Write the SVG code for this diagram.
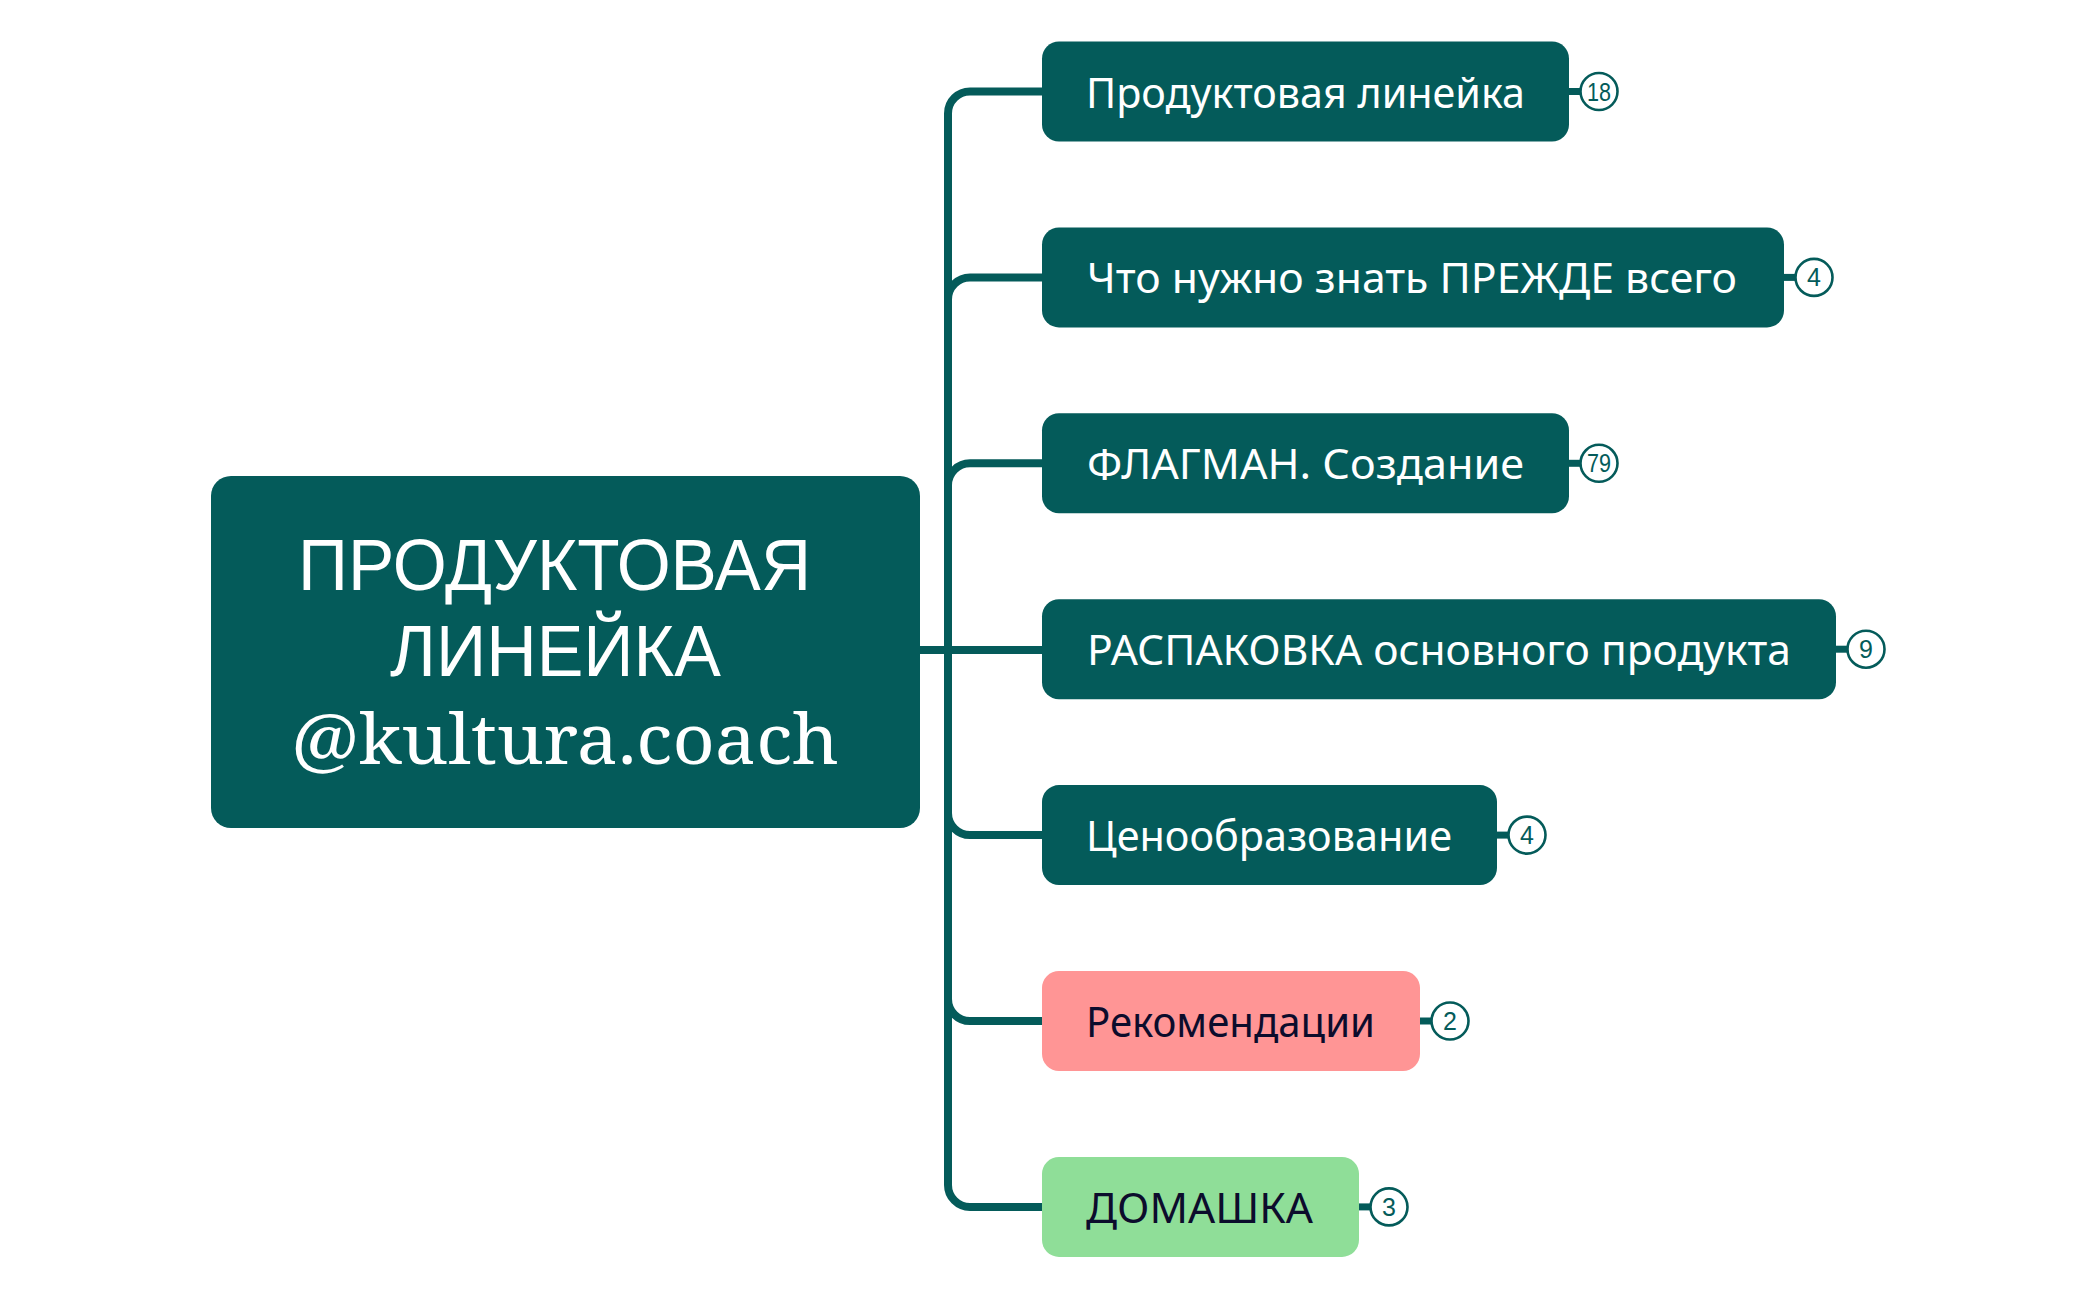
<svg xmlns="http://www.w3.org/2000/svg" width="2097" height="1300" viewBox="0 0 2097 1300">
<style>
.bg{fill:#ffffff}
.box{fill:#045b5a}
.pink{fill:#ff9595}
.green{fill:#8fde98}
.lbl{font-family:"Noto Sans","Liberation Sans",sans-serif;font-size:42px;fill:#ffffff}
.dark{fill:#0c0c2c}
.main{font-family:"Liberation Sans","Noto Sans",sans-serif;font-size:72px;fill:#ffffff}
.serif{font-family:"Noto Serif","DejaVu Serif","Liberation Serif",serif;font-size:69px;fill:#ffffff}
.conn{fill:none;stroke:#045b5a;stroke-width:8}
.tie{stroke:#045b5a;stroke-width:7}
.badge{fill:#ffffff;stroke:#045b5a;stroke-width:2.6}
.num{font-family:"Liberation Sans","Noto Sans",sans-serif;font-size:25px;fill:#045b5a;text-anchor:middle}
</style>
<rect class="bg" x="0" y="0" width="2097" height="1300"/>
<g id="connectors">
<path class="conn" d="M920 650 H1042"/>
<path class="conn" d="M948 650 V113.5 A22 22 0 0 1 970 91.5 H1042"/>
<path class="conn" d="M948 650 V299.4 A22 22 0 0 1 970 277.4 H1042"/>
<path class="conn" d="M948 650 V485.3 A22 22 0 0 1 970 463.3 H1042"/>
<path class="conn" d="M948 650 V813.1 A22 22 0 0 0 970 835.1 H1042"/>
<path class="conn" d="M948 650 V999 A22 22 0 0 0 970 1021 H1042"/>
<path class="conn" d="M948 650 V1184.9 A22 22 0 0 0 970 1206.9 H1042"/>
</g>
<g id="root">
<rect class="box" x="211" y="476" width="709" height="352" rx="20"/>
<text class="main" x="298" y="590" textLength="513" lengthAdjust="spacingAndGlyphs">ПРОДУКТОВАЯ</text>
<text class="main" x="390" y="676" textLength="331" lengthAdjust="spacingAndGlyphs">ЛИНЕЙКА</text>
<text class="serif" x="291" y="764" textLength="548" lengthAdjust="spacingAndGlyphs">@kultura.coach</text>
</g>
<g id="n1">
<rect class="box" x="1042" y="41.5" width="527" height="100" rx="17"/>
<text class="lbl" x="1086" y="107.5" textLength="439" lengthAdjust="spacingAndGlyphs">Продуктовая линейка</text>
<line class="tie" x1="1569" y1="91.5" x2="1581" y2="91.5"/>
<circle class="badge" cx="1599" cy="91.5" r="18.5"/>
<text class="num" x="1599" y="100.5" textLength="24" lengthAdjust="spacingAndGlyphs">18</text>
</g>
<g id="n2">
<rect class="box" x="1042" y="227.4" width="742" height="100" rx="17"/>
<text class="lbl" x="1087" y="293.4" textLength="650" lengthAdjust="spacingAndGlyphs">Что нужно знать ПРЕЖДЕ всего</text>
<line class="tie" x1="1784" y1="277.4" x2="1796" y2="277.4"/>
<circle class="badge" cx="1814" cy="277.4" r="18.5"/>
<text class="num" x="1814" y="286.4">4</text>
</g>
<g id="n3">
<rect class="box" x="1042" y="413.3" width="527" height="100" rx="17"/>
<text class="lbl" x="1087" y="479.3" textLength="437" lengthAdjust="spacingAndGlyphs">ФЛАГМАН. Создание</text>
<line class="tie" x1="1569" y1="463.3" x2="1581" y2="463.3"/>
<circle class="badge" cx="1599" cy="463.3" r="18.5"/>
<text class="num" x="1599" y="472.3" textLength="24" lengthAdjust="spacingAndGlyphs">79</text>
</g>
<g id="n4">
<rect class="box" x="1042" y="599.2" width="794" height="100" rx="17"/>
<text class="lbl" x="1087" y="665.2" textLength="704" lengthAdjust="spacingAndGlyphs">РАСПАКОВКА основного продукта</text>
<line class="tie" x1="1836" y1="649.2" x2="1848" y2="649.2"/>
<circle class="badge" cx="1866" cy="649.2" r="18.5"/>
<text class="num" x="1866" y="658.2">9</text>
</g>
<g id="n5">
<rect class="box" x="1042" y="785.1" width="455" height="100" rx="17"/>
<text class="lbl" x="1086" y="851.1" textLength="366" lengthAdjust="spacingAndGlyphs">Ценообразование</text>
<line class="tie" x1="1497" y1="835.1" x2="1509" y2="835.1"/>
<circle class="badge" cx="1527" cy="835.1" r="18.5"/>
<text class="num" x="1527" y="844.1">4</text>
</g>
<g id="n6">
<rect class="pink" x="1042" y="971" width="378" height="100" rx="17"/>
<text class="lbl dark" x="1086" y="1037" textLength="289" lengthAdjust="spacingAndGlyphs">Рекомендации</text>
<line class="tie" x1="1420" y1="1021" x2="1432" y2="1021"/>
<circle class="badge" cx="1450" cy="1021" r="18.5"/>
<text class="num" x="1450" y="1030">2</text>
</g>
<g id="n7">
<rect class="green" x="1042" y="1156.9" width="317" height="100" rx="17"/>
<text class="lbl dark" x="1086" y="1222.9" textLength="227" lengthAdjust="spacingAndGlyphs">ДОМАШКА</text>
<line class="tie" x1="1359" y1="1206.9" x2="1371" y2="1206.9"/>
<circle class="badge" cx="1389" cy="1206.9" r="18.5"/>
<text class="num" x="1389" y="1215.9">3</text>
</g>
</svg>
